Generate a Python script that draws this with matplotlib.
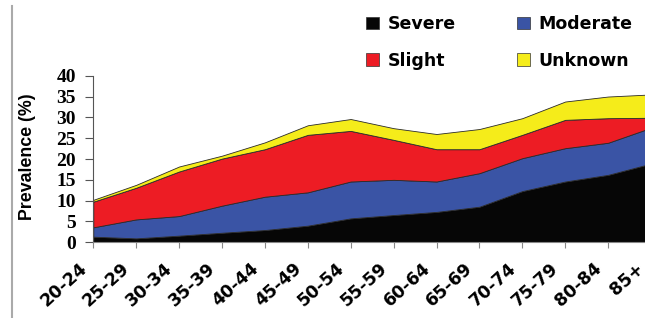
import numpy as np
import matplotlib
matplotlib.use('Agg')
import matplotlib.pyplot as plt
from matplotlib.patches import Patch
from matplotlib.lines import Line2D
import matplotlib.transforms as mtransforms

# age groups and prevalence (%) by severity, stacked
ages = ['20-24', '25-29', '30-34', '35-39', '40-44', '45-49', '50-54',
        '55-59', '60-64', '65-69', '70-74', '75-79', '80-84', '85+']
severe = [1.35, 0.95, 1.6, 2.3, 2.95, 4.0, 5.75, 6.55, 7.3, 8.55, 12.3, 14.6, 16.2, 18.9]
moderate = [2.25, 4.55, 4.7, 6.5, 8.0, 8.0, 8.85, 8.45, 7.3, 8.05, 7.9, 8.0, 7.7, 8.6]
slight = [6.15, 7.6, 10.7, 11.3, 11.4, 13.8, 12.15, 9.6, 7.75, 5.75, 5.6, 6.8, 5.9, 2.4]
unknown = [0.45, 0.7, 1.2, 0.7, 1.65, 2.3, 2.85, 2.8, 3.65, 4.85, 4.0, 4.4, 5.2, 5.6]

colors = ['#060606', '#3a54a5', '#ed1c24', '#f5ec1a']

fig = plt.figure(figsize=(6.45, 3.18), dpi=100)
ax = fig.add_axes([93.3/645, 1-242.3/318, (651-93.3)/645, (242.3-75.7)/318])

x = np.arange(len(ages))
ax.stackplot(x, severe, moderate, slight, unknown, colors=colors,
             edgecolor='#2a2a2a', linewidth=0.6)

ax.set_xlim(0, len(ages)-1)
ax.set_ylim(0, 40)
ax.set_yticks(range(0, 41, 5))
ax.set_xticks(x)
ax.set_xticklabels([])
for t in ax.get_yticklabels():
    t.set_family('Liberation Serif')
    t.set_fontweight('bold')
    t.set_fontsize(14)

# rotated age labels, shifted a bit left and down from each tick
offset = mtransforms.ScaledTranslation(-15/100, -17/100, fig.dpi_scale_trans)
for i, lab in enumerate(ages):
    ax.text(i, 0, lab, transform=ax.get_xaxis_transform() + offset,
            rotation=42, ha='right', va='top', rotation_mode='anchor',
            fontsize=12.5, fontweight='bold', family='DejaVu Sans', clip_on=False)

ax.spines['top'].set_visible(False)
ax.spines['right'].set_visible(False)
ax.spines['left'].set_color('#555555')
ax.spines['bottom'].set_color('#888888')
ax.tick_params(axis='y', length=6, width=0.8, color='#555555', pad=6.5)
ax.tick_params(axis='x', length=4, width=0.8, color='#888888')

fig.text(27/645, 1-157/318, 'Prevalence (%)', rotation=90, ha='center', va='center',
         fontsize=12.8, fontweight='bold', family='Liberation Sans')

# thin border line on the left
fig.add_artist(Line2D([12/645, 12/645], [0, 1-6/318], color='#aaaaaa', linewidth=1.5))

handles = [Patch(facecolor=colors[0], edgecolor='#333333', linewidth=0.5),
           Patch(facecolor=colors[2], edgecolor='#333333', linewidth=0.5),
           Patch(facecolor=colors[1], edgecolor='#333333', linewidth=0.5),
           Patch(facecolor=colors[3], edgecolor='#333333', linewidth=0.5)]
fig.legend(handles, ['Severe', 'Slight', 'Moderate', 'Unknown'], ncol=2,
           loc='upper left', bbox_to_anchor=(366/645, 1-15/318), frameon=False,
           borderpad=0, borderaxespad=0, handlelength=0.77, handleheight=0.73,
           handletextpad=0.46, labelspacing=1.07, columnspacing=3.55,
           prop={'size': 12.5, 'weight': 'bold', 'family': 'DejaVu Sans'})

plt.savefig('out.png', dpi=100)
plt.close()
